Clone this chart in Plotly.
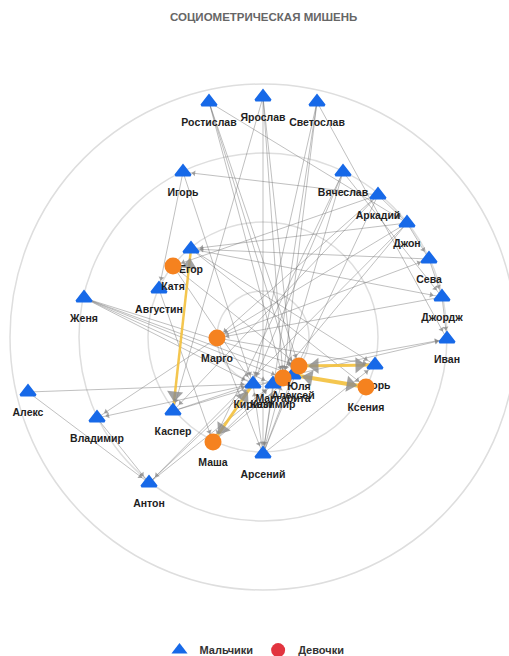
import math
import plotly.graph_objects as go

TITLE = "СОЦИОМЕТРИЧЕСКАЯ МИШЕНЬ"
LEGEND_BOYS = "Мальчики"
LEGEND_GIRLS = "Девочки"

# target rings (radius, in chart units)
RING_RADII = [46, 115, 184, 253]

# boys (node id, label, x, y)
BOY_IDS = ["Ростислав", "Ярослав", "Светослав", "Игорь", "Вячеслав", "Аркадий",
           "Джон", "Сева", "Джордж", "Иван", "Егор", "Августин", "Женя", "Алекс",
           "Владимир", "Каспер", "Антон", "Арсений", "Кирилл", "Казимир",
           "Алексей", "Игорь-2"]
BOY_LABELS = ["Ростислав", "Ярослав", "Светослав", "Игорь", "Вячеслав", "Аркадий",
              "Джон", "Сева", "Джордж", "Иван", "Егор", "Августин", "Женя", "Алекс",
              "Владимир", "Каспер", "Антон", "Арсений", "Кирилл", "Казимир",
              "Алексей", "Игорь"]
BOY_X = [-54, 0, 54, -80, 80, 115, 144, 166, 179, 184, -72, -104, -179, -235,
         -166, -90, -114, 0, -10, 10, 30, 112]
BOY_Y = [235, 240, 235, 165, 165, 142, 114, 78, 40, -2, 88, 48, 39, -55,
         -81, -74, -146, -117, -47, -47, -38, -28]

# girls
GIRL_IDS = ["Катя", "Марго", "Маша", "Маргарита", "Юля", "Ксения"]
GIRL_LABELS = ["Катя", "Марго", "Маша", "Маргарита", "Юля", "Ксения"]
GIRL_X = [-90, -46, -50, 20, 36, 103]
GIRL_Y = [71, -1, -105, -41, -29, -50]

# one-way choices (from -> to)
EDGES = [
    ("Ростислав", "Юля"), ("Ростислав", "Алексей"), ("Ростислав", "Джон"),
    ("Ярослав", "Каспер"), ("Ярослав", "Арсений"), ("Ярослав", "Алексей"),
    ("Светослав", "Арсений"), ("Светослав", "Маргарита"), ("Светослав", "Иван"),
    ("Игорь", "Августин"), ("Игорь", "Кирилл"), ("Аркадий", "Игорь"),
    ("Вячеслав", "Маргарита"), ("Вячеслав", "Кирилл"), ("Вячеслав", "Джордж"),
    ("Вячеслав", "Маша"), ("Аркадий", "Джон"), ("Аркадий", "Катя"),
    ("Аркадий", "Марго"), ("Аркадий", "Алексей"), ("Аркадий", "Каспер"),
    ("Джон", "Сева"), ("Джон", "Егор"), ("Джон", "Марго"), ("Джон", "Казимир"),
    ("Джон", "Антон"), ("Сева", "Егор"), ("Сева", "Джордж"), ("Джордж", "Иван"),
    ("Джордж", "Марго"), ("Егор", "Джордж"), ("Егор", "Игорь-2"),
    ("Юля", "Иван"), ("Алексей", "Иван"), ("Марго", "Сева"),
    ("Марго", "Владимир"), ("Марго", "Игорь-2"), ("Марго", "Арсений"),
    ("Женя", "Кирилл"), ("Женя", "Казимир"), ("Женя", "Маргарита"),
    ("Женя", "Алексей"), ("Женя", "Юля"), ("Алекс", "Кирилл"),
    ("Алекс", "Антон"), ("Владимир", "Антон"), ("Кирилл", "Владимир"),
    ("Каспер", "Кирилл"), ("Каспер", "Маргарита"), ("Маша", "Казимир"),
    ("Маша", "Алексей"), ("Антон", "Кирилл"), ("Антон", "Казимир"),
    ("Арсений", "Кирилл"), ("Арсений", "Казимир"), ("Арсений", "Маргарита"),
    ("Арсений", "Алексей"), ("Арсений", "Юля"), ("Арсений", "Игорь-2"),
    ("Катя", "Кирилл"), ("Августин", "Маша"), ("Катя", "Юля"),
    ("Егор", "Ксения"), ("Ярослав", "Маргарита"), ("Светослав", "Кирилл"),
    ("Ростислав", "Маргарита"),
]

# mutual choices (highlighted)
MUTUAL = [("Егор", "Каспер"), ("Кирилл", "Маша"), ("Алексей", "Ксения"),
          ("Юля", "Игорь-2")]
MUTUAL_WIDTH = [2.5, 3, 4, 3]

BLUE = "#1769e8"
ORANGE = "#f5821f"
RED = "#e2343f"
FONT = "Liberation Sans, Arial, sans-serif"

pos = {}
for i, n in enumerate(BOY_IDS):
    pos[n] = (BOY_X[i], BOY_Y[i])
for i, n in enumerate(GIRL_IDS):
    pos[n] = (GIRL_X[i], GIRL_Y[i])


def head(a, b, back):
    (x0, y0), (x1, y1) = pos[a], pos[b]
    dx, dy = x1 - x0, y1 - y0
    L = math.hypot(dx, dy)
    ux, uy = dx / L, dy / L
    return x1 - ux * back, y1 - uy * back, math.degrees(math.atan2(dx, dy))


fig = go.Figure()

# thin edges
ex, ey = [], []
for a, b in EDGES:
    ex += [pos[a][0], pos[b][0], None]
    ey += [pos[a][1], pos[b][1], None]
fig.add_trace(go.Scatter(x=ex, y=ey, mode="lines", hoverinfo="skip",
                         line=dict(color="rgba(110,110,110,0.55)", width=0.8),
                         showlegend=False))

# mutual edges
for (a, b), w in zip(MUTUAL, MUTUAL_WIDTH):
    fig.add_trace(go.Scatter(x=[pos[a][0], pos[b][0]], y=[pos[a][1], pos[b][1]],
                             mode="lines", hoverinfo="skip",
                             line=dict(color="rgba(243,192,60,0.9)", width=w),
                             showlegend=False))

# thin arrowheads
hx, hy, ha = [], [], []
for a, b in EDGES:
    x, y, ang = head(a, b, 11)
    hx.append(x); hy.append(y); ha.append(ang)
fig.add_trace(go.Scatter(x=hx, y=hy, mode="markers", hoverinfo="skip",
                         marker=dict(symbol="triangle-up", size=5, angle=ha,
                                     color="rgba(130,130,130,0.7)", line=dict(width=0)),
                         showlegend=False))

# big arrowheads on mutual edges
bx, by, ba = [], [], []
for a, b in MUTUAL:
    for s, t in ((a, b), (b, a)):
        x, y, ang = head(s, t, 16)
        bx.append(x); by.append(y); ba.append(ang)
fig.add_trace(go.Scatter(x=bx, y=by, mode="markers", hoverinfo="skip",
                         marker=dict(symbol="triangle-up", size=14, angle=ba,
                                     color="rgba(140,140,140,0.8)", line=dict(width=0)),
                         showlegend=False))

LABEL_DY = 21
label_font = dict(family=FONT, size=10.5, color="#1e1e1e", weight="bold")

fig.add_trace(go.Scatter(x=BOY_X, y=BOY_Y, mode="markers", hoverinfo="text",
                         text=BOY_LABELS,
                         marker=dict(symbol="triangle-up", size=13, color=BLUE,
                                     line=dict(color=BLUE, width=2.5)),
                         showlegend=False))
fig.add_trace(go.Scatter(x=BOY_X, y=[v - LABEL_DY for v in BOY_Y], mode="text",
                         text=BOY_LABELS, textfont=label_font, hoverinfo="skip",
                         showlegend=False))
fig.add_trace(go.Scatter(x=GIRL_X, y=GIRL_Y, mode="markers", hoverinfo="text",
                         text=GIRL_LABELS,
                         marker=dict(symbol="circle", size=17, color=ORANGE,
                                     line=dict(width=0)),
                         showlegend=False))
fig.add_trace(go.Scatter(x=GIRL_X, y=[v - LABEL_DY for v in GIRL_Y], mode="text",
                         text=GIRL_LABELS, textfont=label_font, hoverinfo="skip",
                         showlegend=False))

# legend entries
fig.add_trace(go.Scatter(x=[None], y=[None], mode="markers", name=LEGEND_BOYS,
                         marker=dict(symbol="triangle-up", size=14, color=BLUE)))
fig.add_trace(go.Scatter(x=[None], y=[None], mode="markers", name=LEGEND_GIRLS,
                         marker=dict(symbol="circle", size=14, color=RED)))

shapes = [dict(type="circle", xref="x", yref="y", x0=-r, x1=r, y0=-r, y1=r,
               line=dict(color="#dedede", width=1.5), layer="below")
          for r in RING_RADII]

fig.update_layout(
    width=509, height=656,
    margin=dict(l=0, r=0, t=0, b=0, autoexpand=False),
    paper_bgcolor="white", plot_bgcolor="white",
    xaxis=dict(range=[-263, 246], visible=False, fixedrange=True),
    yaxis=dict(range=[-319, 337], visible=False, fixedrange=True),
    shapes=shapes,
    showlegend=True,
    legend=dict(orientation="h", x=0.5, xanchor="center", y=0.009, yanchor="middle",
                itemwidth=30,
                font=dict(family=FONT, size=11, color="#333333", weight="bold"),
                bgcolor="rgba(0,0,0,0)"),
    annotations=[dict(text=TITLE, x=0, y=320, xref="x", yref="y", showarrow=False,
                      font=dict(family=FONT, size=11.5, color="#666666", weight="bold"))],
)

fig.write_html("out.html", config={"displayModeBar": False},
               post_script="document.body.style.margin='0px';document.body.style.overflow='hidden';")
